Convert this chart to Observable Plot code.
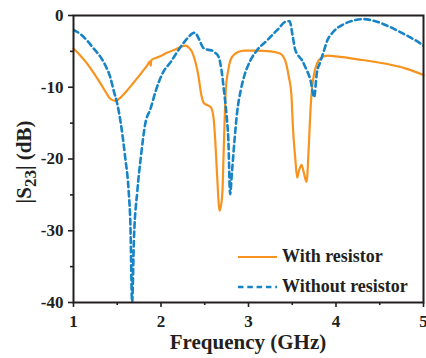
<!DOCTYPE html>
<html>
<head>
<meta charset="utf-8">
<script src="https://cdn.jsdelivr.net/npm/d3@7"></script>
<script src="https://cdn.jsdelivr.net/npm/@observablehq/plot@0.6"></script>
<style>
  html, body { margin: 0; padding: 0; background: #fff; }
  #chart { position: relative; width: 426px; height: 358px; }
</style>
</head>
<body>
<div id="chart"></div>
<script>
// With resistor (orange, solid)
const withFreq = [1.00, 1.08, 1.156, 1.23, 1.31, 1.37, 1.42, 1.48, 1.54, 1.61, 1.69, 1.77, 1.84, 1.875, 1.882, 1.89, 1.97, 2.07, 2.17, 2.28,
  2.32, 2.36, 2.40, 2.43, 2.46, 2.49, 2.53, 2.57, 2.60, 2.62, 2.64, 2.67, 2.70, 2.72, 2.74, 2.77, 2.81, 2.88, 2.95, 3.10, 3.25, 3.36,
  3.42, 3.46, 3.49, 3.51, 3.535, 3.556, 3.58, 3.606, 3.63, 3.663, 3.69, 3.71, 3.75, 3.82, 3.90, 4.00, 4.30, 4.60, 4.80, 5.00];
const withDb = [-4.6, -5.6, -6.7, -8.0, -9.5, -10.7, -11.6, -11.9, -11.4, -10.5, -9.3, -8.1, -7.0, -6.4, -7.0, -6.2, -5.8, -5.2, -4.7, -4.2,
  -4.5, -5.2, -6.8, -8.6, -11.0, -12.2, -12.5, -12.8, -14.2, -17.4, -22.0, -27.2, -25.0, -17.4, -10.5, -7.5, -5.8, -5.1, -4.9, -4.9, -5.0, -5.3,
  -6.3, -8.5, -11.0, -16.0, -20.0, -22.6, -21.5, -20.8, -21.8, -23.2, -18.0, -12.8, -8.1, -6.0, -5.6, -5.7, -6.2, -6.8, -7.4, -8.3];

// Without resistor (blue, dashed)
const withoutFreq = [1.00, 1.08, 1.156, 1.23, 1.31, 1.37, 1.42, 1.46, 1.50, 1.54, 1.59, 1.63, 1.65, 1.67, 1.69, 1.73, 1.77, 1.82, 1.88, 1.94,
  2.02, 2.11, 2.20, 2.30, 2.36, 2.39, 2.43, 2.49, 2.55, 2.585, 2.62, 2.66, 2.69, 2.72, 2.75, 2.77, 2.79, 2.81, 2.84, 2.87, 2.91, 2.95,
  3.02, 3.10, 3.21, 3.33, 3.44, 3.47, 3.50, 3.53, 3.57, 3.61, 3.65, 3.71, 3.75, 3.78, 3.82, 3.86, 3.90, 3.96, 4.02, 4.09, 4.20, 4.31,
  4.45, 4.58, 4.70, 4.81, 4.90, 5.00];
const withoutDb = [-2.0, -2.6, -3.5, -4.6, -5.8, -7.1, -8.6, -10.5, -12.3, -15.0, -19.7, -24.4, -29.0, -40.0, -31.4, -24.4, -19.7, -15.1, -13.0, -10.5,
  -8.0, -6.5, -4.8, -3.2, -2.5, -2.4, -3.2, -4.6, -4.8, -4.9, -5.2, -5.8, -7.5, -10.5, -14.0, -17.4, -24.9, -22.0, -17.4, -13.5, -10.5, -8.5,
  -6.3, -4.8, -3.5, -2.0, -0.8, -0.8, -2.5, -4.6, -5.6, -6.2, -7.2, -9.1, -11.4, -8.1, -6.5, -5.0, -3.5, -2.4, -1.7, -1.2, -0.7, -0.5,
  -0.8, -1.4, -2.1, -2.8, -3.4, -4.2];

const xTicks = [1, 2, 3, 4, 5];
const xMinor = [1.5, 2.5, 3.5, 4.5];
const yTicks = [0, -10, -20, -30, -40];
const yMinor = [-5, -15, -25, -35];
const seriesNames = ["With resistor", "Without resistor"];
const xLabel = "Frequency (GHz)";

const orange = "#F7931E";
const blue = "#1784C7";
const ink = "#231f20";
const serif = "'Liberation Serif', 'Times New Roman', serif";

const withData = withFreq.map((f, i) => ({f, v: withDb[i]}));
const withoutData = withoutFreq.map((f, i) => ({f, v: withoutDb[i]}));

const plot = Plot.plot({
  width: 426,
  height: 358,
  marginLeft: 73,
  marginRight: 3,
  marginTop: 15,
  marginBottom: 56,
  style: {fontFamily: serif, fontWeight: "bold", fontSize: "17px", color: ink, background: "#fff"},
  x: {domain: [1, 5]},
  y: {domain: [-40, 0]},
  marks: [
    Plot.line(withData, {x: "f", y: "v", stroke: orange, strokeWidth: 2.2, curve: "monotone-x"}),
    Plot.line(withoutData, {x: "f", y: "v", stroke: blue, strokeWidth: 2.6, strokeDasharray: "5.5,3.8", curve: "monotone-x", clip: true}),
    Plot.frame({stroke: ink, strokeWidth: 2}),
    Plot.axisX({ticks: xTicks, tickSize: 5, tickPadding: 7, tickFormat: d => String(d), label: null, stroke: ink, strokeWidth: 1.6, fontSize: 17}),
    Plot.axisX({ticks: xMinor, tickSize: 3, text: null, label: null, stroke: ink, strokeWidth: 1.6}),
    Plot.axisY({ticks: yTicks, tickSize: 5, tickPadding: 5, tickFormat: d => String(d), label: null, stroke: ink, strokeWidth: 1.6, fontSize: 17}),
    Plot.axisY({ticks: yMinor, tickSize: 3, text: null, label: null, stroke: ink, strokeWidth: 1.6})
  ]
});

document.getElementById("chart").appendChild(plot);

const svg = d3.select(plot);

// X axis label
svg.append("text")
  .attr("x", 248).attr("y", 349)
  .attr("text-anchor", "middle")
  .attr("font-size", 21)
  .attr("font-weight", "bold")
  .attr("font-family", serif)
  .attr("fill", ink)
  .text(xLabel);

// Y axis label with subscript
const yl = svg.append("text")
  .attr("transform", "translate(31,162) rotate(-90)")
  .attr("text-anchor", "middle")
  .attr("font-size", 21)
  .attr("font-weight", "bold")
  .attr("font-family", serif)
  .attr("fill", ink);
yl.append("tspan").text("|S");
yl.append("tspan").attr("font-size", 17).attr("dy", 5).text("23");
yl.append("tspan").attr("dy", -5).text("| (dB)");

// Legend
const leg = svg.append("g")
  .attr("font-family", serif)
  .attr("font-weight", "bold")
  .attr("font-size", 18)
  .attr("text-anchor", "start")
  .attr("fill", ink);
const legRows = [
  {name: seriesNames[0], color: orange, dash: null, w: 2.2, y: 257},
  {name: seriesNames[1], color: blue, dash: "5.5,3.8", w: 2.6, y: 287}
];
legRows.forEach(r => {
  leg.append("line")
    .attr("x1", 238).attr("x2", 277).attr("y1", r.y).attr("y2", r.y)
    .attr("stroke", r.color).attr("stroke-width", r.w)
    .attr("stroke-dasharray", r.dash);
  leg.append("text").attr("x", 282).attr("y", r.y + 5).attr("text-anchor", "start").text(r.name);
});
</script>
</body>
</html>
